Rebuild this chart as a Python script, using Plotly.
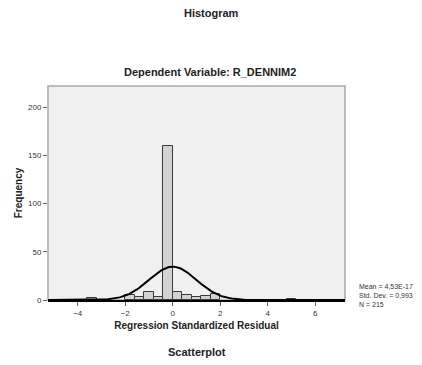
import numpy as np
import plotly.graph_objects as go

# Histogram bins (left edge, width 0.4) and counts
BIN_WIDTH = 0.4
bin_left = [-3.6, -2.0, -1.6, -1.2, -0.8, -0.4, 0.0, 0.4, 0.8, 1.2, 1.6, 4.8]
counts = [2, 5, 3, 8, 3, 160, 8, 5, 3, 4, 6, 1]

# Stats shown in the legend box
MEAN = 4.53e-17
SD = 0.993
N = 215

x_ticks = [-4, -2, 0, 2, 4, 6]
y_ticks = [0, 50, 100, 150, 200]

FONT = "Liberation Sans, Arial, sans-serif"

centers = [b + BIN_WIDTH / 2 for b in bin_left]

# fitted normal curve (SPSS draws it scaled by N * bin width)
xs = np.linspace(-5.25, 7.25, 300)
ys = N * BIN_WIDTH * np.exp(-0.5 * ((xs - MEAN) / SD) ** 2) / (SD * np.sqrt(2 * np.pi))

fig = go.Figure()
fig.add_trace(go.Bar(
    x=centers, y=counts, width=BIN_WIDTH,
    marker=dict(color='#d2d2d2', line=dict(color='#3a3a3a', width=1)),
    showlegend=False,
))
fig.add_trace(go.Scatter(
    x=xs, y=ys, mode='lines',
    line=dict(color='black', width=2),
    showlegend=False,
))

fig.update_xaxes(
    range=[-5.25, 7.25], tickvals=x_ticks, ticks='outside', ticklen=4,
    tickcolor='#666666', showgrid=False, zeroline=False, automargin=False,
    showline=True, linecolor='black', linewidth=2,
    tickfont=dict(size=8, color='#333333', family=FONT),
    title=dict(text='<b>Regression Standardized Residual</b>',
               font=dict(size=10, color='#222222', family=FONT), standoff=5),
)
fig.update_yaxes(
    range=[0, 222], tickvals=y_ticks, ticks='outside', ticklen=4,
    tickcolor='#666666', showgrid=False, zeroline=False, automargin=False,
    showline=False,
    tickfont=dict(size=8, color='#333333', family=FONT),
    title=dict(text='<b>Frequency</b>',
               font=dict(size=10, color='#222222', family=FONT), standoff=3),
)

# plot frame
fig.add_shape(type='rect', xref='paper', yref='paper', x0=0, y0=0, x1=1, y1=1,
              line=dict(color='#a8a8a8', width=1.5), layer='below')

fig.add_annotation(text='<b>Histogram</b>', xref='paper', yref='paper',
                   x=0.55, y=1.0, yshift=81, showarrow=False,
                   font=dict(size=11, color='#222222', family=FONT))
fig.add_annotation(text='<b>Dependent Variable: R_DENNIM2</b>', xref='paper', yref='paper',
                   x=0.545, y=1.0, yshift=22, showarrow=False,
                   font=dict(size=11, color='#222222', family=FONT))
fig.add_annotation(text='<b>Scatterplot</b>', xref='paper', yref='paper',
                   x=0.5, y=0, yshift=-60, showarrow=False,
                   font=dict(size=11, color='#222222', family=FONT))
fig.add_annotation(text=f'Mean = 4,53E-17<br>Std. Dev. = 0,993<br>N = {N}',
                   xref='paper', yref='paper', x=1.0, y=0, xshift=12, yshift=-10,
                   xanchor='left', yanchor='bottom', align='left', showarrow=False,
                   font=dict(size=7, color='#333333', family=FONT))

# page body has an 8px margin, so the figure is shrunk and margins shifted
fig.update_layout(
    width=414, height=357,
    margin=dict(l=40, r=77, t=78, b=65),
    plot_bgcolor='#f0f0f0', paper_bgcolor='white',
    bargap=0,
)

fig.write_html("out.html")
